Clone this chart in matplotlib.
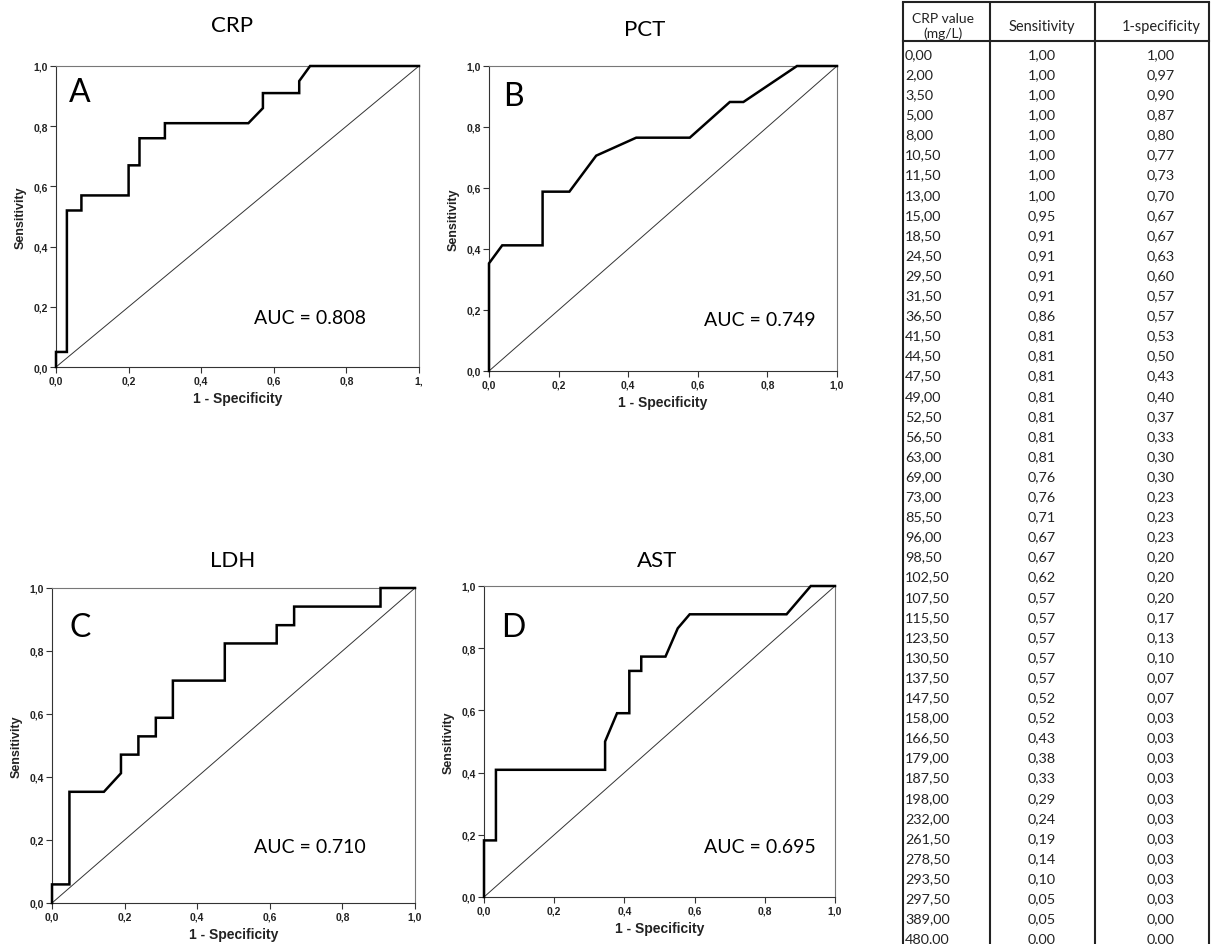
import matplotlib
matplotlib.use("Agg")
import matplotlib.pyplot as plt

W, H = 1211, 945

# ---------------- data ----------------
crp_values = ["0,00", "2,00", "3,50", "5,00", "8,00", "10,50", "11,50", "13,00", "15,00", "18,50",
              "24,50", "29,50", "31,50", "36,50", "41,50", "44,50", "47,50", "49,00", "52,50", "56,50",
              "63,00", "69,00", "73,00", "85,50", "96,00", "98,50", "102,50", "107,50", "115,50", "123,50",
              "130,50", "137,50", "147,50", "158,00", "166,50", "179,00", "187,50", "198,00", "232,00",
              "261,50", "278,50", "293,50", "297,50", "389,00", "480,00"]
crp_sens = [1.00, 1.00, 1.00, 1.00, 1.00, 1.00, 1.00, 1.00, 0.95, 0.91,
            0.91, 0.91, 0.91, 0.86, 0.81, 0.81, 0.81, 0.81, 0.81, 0.81,
            0.81, 0.76, 0.76, 0.71, 0.67, 0.67, 0.62, 0.57, 0.57, 0.57,
            0.57, 0.57, 0.52, 0.52, 0.43, 0.38, 0.33, 0.29, 0.24,
            0.19, 0.14, 0.10, 0.05, 0.05, 0.00]
crp_fpr = [1.00, 0.97, 0.90, 0.87, 0.80, 0.77, 0.73, 0.70, 0.67, 0.67,
           0.63, 0.60, 0.57, 0.57, 0.53, 0.50, 0.43, 0.40, 0.37, 0.33,
           0.30, 0.30, 0.23, 0.23, 0.23, 0.20, 0.20, 0.20, 0.17, 0.13,
           0.10, 0.07, 0.07, 0.03, 0.03, 0.03, 0.03, 0.03, 0.03,
           0.03, 0.03, 0.03, 0.03, 0.00, 0.00]

pct_fpr = [0, 0, 0.038, 0.154, 0.154, 0.231, 0.308, 0.423, 0.577, 0.692, 0.731, 0.885, 1.0]
pct_sens = [0, 0.353, 0.412, 0.412, 0.588, 0.588, 0.706, 0.765, 0.765, 0.882, 0.882, 1.0, 1.0]

ldh_fpr = [0, 0, 0.048, 0.048, 0.143, 0.190, 0.190, 0.238, 0.238, 0.286, 0.286, 0.333, 0.333,
           0.476, 0.476, 0.619, 0.619, 0.667, 0.667, 0.905, 0.905, 1.0]
ldh_sens = [0, 0.059, 0.059, 0.353, 0.353, 0.412, 0.471, 0.471, 0.529, 0.529, 0.588, 0.588, 0.706,
            0.706, 0.824, 0.824, 0.882, 0.882, 0.941, 0.941, 1.0, 1.0]

ast_fpr = [0, 0, 0.034, 0.034, 0.345, 0.345, 0.379, 0.414, 0.414, 0.448, 0.448, 0.517, 0.552,
           0.586, 0.862, 0.931, 1.0]
ast_sens = [0, 0.182, 0.182, 0.409, 0.409, 0.5, 0.591, 0.591, 0.727, 0.727, 0.773, 0.773, 0.864,
            0.909, 0.909, 1.0, 1.0]

titles = ["CRP", "PCT", "LDH", "AST"]
letters = ["A", "B", "C", "D"]
auc_texts = ["AUC = 0.808", "AUC = 0.749", "AUC = 0.710", "AUC = 0.695"]
tick_vals = [0.0, 0.2, 0.4, 0.6, 0.8, 1.0]
tick_labels = ["0,0", "0,2", "0,4", "0,6", "0,8", "1,0"]
tick_labels_a_x = ["0,0", "0,2", "0,4", "0,6", "0,8", "1,"]
table_headers = ["CRP value\n(mg/L)", "Sensitivity", "1-specificity"]

# ---------------- figure ----------------
fig = plt.figure(figsize=(W / 100, H / 100), dpi=100)
fig.patch.set_facecolor("white")

TEXT_FONT = ["Lato", "DejaVu Sans"]
SPSS_FONT = ["Liberation Sans", "DejaVu Sans"]


def fx(x):
    return x / W


def fy(y):
    return 1 - y / H


# panel boxes in pixels: left, top, right, bottom
boxes = [(56, 67, 419, 368), (489, 67, 837, 372), (52, 589, 415, 904), (484, 587, 835, 898)]
curves_x = [crp_fpr[::-1], pct_fpr, ldh_fpr, ast_fpr]
curves_y = [crp_sens[::-1], pct_sens, ldh_sens, ast_sens]
title_pos = [(232, 26), (645, 30), (233, 561), (657, 561)]
letter_pos = [(80, 93), (513, 97), (80, 628), (513, 628)]
auc_pos = [(310, 318), (760, 320), (310, 848), (760, 848)]

for i, (l, t, r, b) in enumerate(boxes):
    ax = fig.add_axes([fx(l), fy(b), (r - l) / W, (b - t) / H])
    ax.set_xlim(0, 1)
    ax.set_ylim(0, 1)
    ax.plot([0, 1], [0, 1], color="#333333", lw=0.7)
    ax.plot(curves_x[i], curves_y[i], color="black", lw=1.8, solid_joinstyle="miter",
            clip_on=False, zorder=5)
    ax.set_xticks(tick_vals)
    ax.set_yticks(tick_vals)
    ax.set_xticklabels(tick_labels_a_x if i == 0 else tick_labels)
    ax.set_yticklabels(tick_labels)
    ax.tick_params(direction="out", length=4, width=0.8, color="#333333", pad=2,
                   labelsize=7.5)
    for lab in ax.get_xticklabels() + ax.get_yticklabels():
        lab.set_fontfamily(SPSS_FONT)
        lab.set_fontweight("bold")
        lab.set_color("#222222")
    for s in ax.spines.values():
        s.set_color("#777777")
        s.set_linewidth(0.8)
    ax.spines["left"].set_color("#333333")
    ax.spines["bottom"].set_color("#333333")
    ax.set_xlabel("1 - Specificity", fontsize=10, fontweight="bold", family=SPSS_FONT,
                  labelpad=4, color="#222222")
    ax.set_ylabel("Sensitivity", fontsize=9, fontweight="bold", family=SPSS_FONT,
                  labelpad=5, color="#222222")
    fig.text(fx(title_pos[i][0]), fy(title_pos[i][1]), titles[i], ha="center", va="center",
             fontsize=16, family=TEXT_FONT)
    fig.text(fx(letter_pos[i][0]), fy(letter_pos[i][1]), letters[i], ha="center", va="center",
             fontsize=23, family=TEXT_FONT)
    fig.text(fx(auc_pos[i][0]), fy(auc_pos[i][1]), auc_texts[i], ha="center", va="center",
             fontsize=14, family=TEXT_FONT)

# ---------------- table ----------------
tax = fig.add_axes([0, 0, 1, 1])
tax.set_xlim(0, W)
tax.set_ylim(H, 0)
tax.axis("off")

col_lines = [903, 990, 1095, 1209]
top_y, head_y = 3, 42
for xv in col_lines:
    tax.plot([xv, xv], [top_y, H], color="#222222", lw=1.5, solid_capstyle="butt")
tax.plot([col_lines[0], col_lines[-1]], [top_y, top_y], color="#222222", lw=1.5)
tax.plot([col_lines[0], col_lines[-1]], [head_y, head_y], color="#222222", lw=1.5)

tax.text(943, 19, "CRP value", ha="center", va="center", fontsize=10,
         family=TEXT_FONT, color="#222222")
tax.text(943, 34, "(mg/L)", ha="center", va="center", fontsize=10,
         family=TEXT_FONT, color="#222222")
tax.text(1042, 27, table_headers[1], ha="center", va="center", fontsize=10.5,
         family=TEXT_FONT, color="#222222")
tax.text(1161, 27, table_headers[2], ha="center", va="center", fontsize=10.5,
         family=TEXT_FONT, color="#222222")

row0, step = 55, 20.1
for k in range(len(crp_values)):
    yv = row0 + k * step
    tax.text(905, yv, crp_values[k], ha="left", va="center", fontsize=10.4,
             family=TEXT_FONT, color="#222222")
    tax.text(1042, yv, f"{crp_sens[k]:.2f}".replace(".", ","), ha="center", va="center",
             fontsize=10.4, family=TEXT_FONT, color="#222222")
    tax.text(1161, yv, f"{crp_fpr[k]:.2f}".replace(".", ","), ha="center", va="center",
             fontsize=10.4, family=TEXT_FONT, color="#222222")

fig.savefig("out.png", dpi=100, facecolor="white")
